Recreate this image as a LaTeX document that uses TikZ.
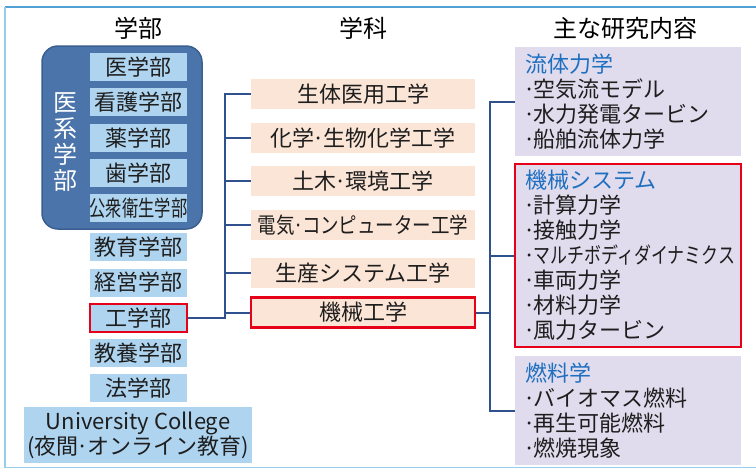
\documentclass[tikz,border=0pt]{standalone}
\usepackage{fontspec}
\setmainfont{Noto Sans CJK JP}
\usetikzlibrary{calc}
\definecolor{facblue}{RGB}{174,212,240}
\definecolor{peach}{RGB}{251,229,214}
\definecolor{lav}{RGB}{224,220,237}
\definecolor{medbox}{RGB}{74,116,170}
\definecolor{medline}{RGB}{58,95,144}
\definecolor{titleblue}{RGB}{31,111,192}
\definecolor{hired}{RGB}{230,0,24}
\definecolor{connblue}{RGB}{47,82,143}
\definecolor{txt}{RGB}{30,30,30}
\definecolor{frametop}{RGB}{80,160,214}
\definecolor{frameside}{RGB}{150,205,235}
\newcommand{\md}{\makebox[0.4em]{·}}
\begin{document}
\begin{tikzpicture}[x=1pt,y=-1pt,
  fac/.style={fill=facblue, minimum width=97pt, minimum height=28pt, inner sep=0pt, text=txt, font=\fontsize{22}{25}\selectfont},
  dept/.style={fill=peach, minimum width=224pt, minimum height=30pt, inner sep=0pt, text=txt, font=\fontsize{22}{25}\selectfont},
  res/.style={fill=lav, text width=206pt, inner xsep=10pt, inner ysep=0pt, align=left, text=txt, font=\fontsize{22}{25}\selectfont},
  hl/.style={draw=hired, line width=2.5pt},
  head/.style={text=black, font=\fontsize{24}{28}\selectfont},
  conn/.style={draw=connblue, line width=2pt}
]
\useasboundingbox (0,0) rectangle (756,469);
\fill[white] (0,0) rectangle (756,469);
% frame
\draw[frametop, line width=1.5pt] (5,7) -- (760,7);
\draw[frameside, line width=1.5pt] (5,7) -- (5,467.5) -- (760,467.5);

% headings
\node[head] (h1) at (138,28) {学部};
\node[head] (h2) at (363,28) {学科};
\node[head] (h3) at (625,28) {主な研究内容};

% medical group
\node[fill=medbox, draw=medline, line width=1.5pt, rounded corners=16pt, minimum width=160pt, minimum height=183pt, inner sep=0pt] (med) at (122,137.5) {};
\node[text=white, align=center, inner sep=0pt, font=\fontsize{24}{26}\selectfont] (ikei) at (65,142) {医\\系\\学\\部};

\node[fac] (f1) at (138.5,67) {医学部};
\node[fac] (f2) at (138.5,102) {看護学部};
\node[fac] (f3) at (138.5,138) {薬学部};
\node[fac] (f4) at (138.5,173) {歯学部};
\node[fac] (f5) at (138.5,208) {\scalebox{0.74}[1]{公衆衛生学部}};
\node[fac] (f6) at (138.5,247) {教育学部};
\node[fac] (f7) at (138.5,282.5) {経営学部};
\node[fac, hl] (kou) at (138.5,318) {工学部};
\node[fac] (f9) at (138.5,353) {教養学部};
\node[fac] (f10) at (138.5,388) {法学部};
\node[fac, minimum width=228pt, minimum height=56pt, align=center] (uc) at (138,435) {University College\\(夜間\md オンライン教育)};

% departments
\node[dept] (d1) at (363,94) {生体医用工学};
\node[dept] (d2) at (363,138) {化学\md 生物化学工学};
\node[dept] (d3) at (363,181) {土木\md 環境工学};
\node[dept] (d4) at (363,225) {\scalebox{0.84}[1]{電気\md コンピューター工学}};
\node[dept] (d5) at (363,273) {生産システム工学};
\node[dept, hl] (kikai) at (363,312.5) {機械工学};

% research
\node[res, minimum height=109pt] (r1) at (628,101.5) {{\color{titleblue}流体力学}\\\md 空気流モデル\\\md 水力発電タービン\\\md 船舶流体力学};
\node[res, hl, minimum height=183pt] (r2) at (628,255.5) {{\color{titleblue}機械システム}\\\md 計算力学\\\md 接触力学\\\md\scalebox{0.77}[1]{マルチボディダイナミクス}\\\md 車両力学\\\md 材料力学\\\md 風力タービン};
\node[res, minimum height=109pt] (r3) at (628,410.5) {{\color{titleblue}燃料学}\\\md バイオマス燃料\\\md 再生可能燃料\\\md 燃焼現象};

% connectors
\coordinate (tL) at (225,0);
\coordinate (tR) at (490,0);
\draw[conn] (kou.east) -- (kou.east -| tL) -- (d1.west -| tL) -- (d1.west);
\foreach \n in {d2,d3,d4,d5,kikai} \draw[conn] (\n.west) -- (\n.west -| tL);
\draw[conn] (r1.west) -- (r1.west -| tR) -- (r3.west -| tR) -- (r3.west);
\draw[conn] (r2.west) -- (r2.west -| tR);
\draw[conn] (kikai.east) -- (kikai.east -| tR);
\end{tikzpicture}
\end{document}
